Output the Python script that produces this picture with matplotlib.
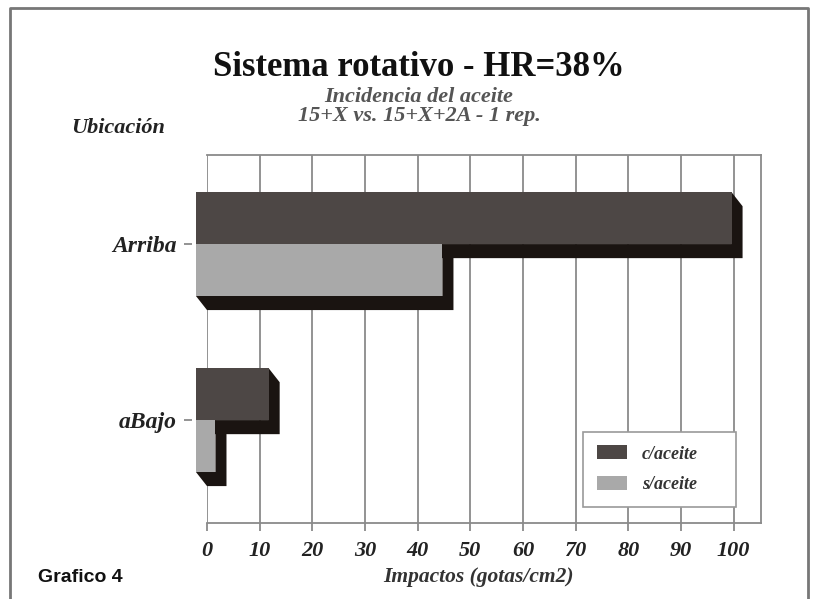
import numpy as np
import matplotlib
matplotlib.use("Agg")
import matplotlib.pyplot as plt
from matplotlib.patches import Polygon, Rectangle

# data
ubicacion = ["aBajo", "Arriba"]
series = ["c/aceite", "s/aceite"]
c_aceite = [13.8, 101.7]
s_aceite = [3.7, 46.8]
xticks = list(range(0, 101, 10))

front_col = {"c/aceite": "#4d4745", "s/aceite": "#a9a9a9"}
side_col = "#1a1411"

bar_h = 0.295
depth_x = 2.1   # extrusion in value units
depth_y = 0.08  # extrusion in category units

fig = plt.figure(figsize=(8.13, 5.99), dpi=100)
fig.patch.set_facecolor("white")
ax = fig.add_axes([207/813, 1-522.7/599, (761-207)/813, (522.7-155)/599])

ypos = np.arange(len(ubicacion))
fronts = []
for i, y in enumerate(ypos):
    for name, vals, top in (("c/aceite", c_aceite, y + bar_h), ("s/aceite", s_aceite, y)):
        v = vals[i]
        x0, x1 = -depth_x, v - depth_x
        yt, yb = top, top - bar_h
        shadow = Polygon([(x0, yb), (x0 + depth_x, yb - depth_y), (x1 + depth_x, yb - depth_y),
                          (x1 + depth_x, yt - depth_y), (x1, yt), (x1, yb)],
                         closed=True, facecolor=side_col, edgecolor="none", clip_on=False, zorder=3)
        ax.add_patch(shadow)
        fronts.append(Rectangle((x0, yb), x1 - x0, bar_h, facecolor=front_col[name],
                                edgecolor="none", clip_on=False, zorder=4))
for r in fronts:
    ax.add_patch(r)

ax.set_xlim(0, 105.2)
ax.set_ylim(-0.583, 1.506)
ax.set_xticks(xticks)
ax.set_yticks(ypos)
ax.set_yticklabels(ubicacion)
ax.xaxis.grid(True, color="#8a8a8a", linewidth=1.3)
ax.set_axisbelow(True)

for s in ("top", "right", "bottom"):
    ax.spines[s].set_color("#8a8a8a")
    ax.spines[s].set_linewidth(1.3)
ax.spines["left"].set_position(("outward", 11))
ax.spines["left"].set_visible(False)

ax.tick_params(axis="x", length=6, width=1.3, color="#8a8a8a", pad=7)
ax.tick_params(axis="y", length=6, width=1.3, color="#8a8a8a", pad=5)
for lab in ax.get_xticklabels():
    lab.set_fontfamily("Liberation Serif")
    lab.set_fontweight("bold")
    lab.set_fontstyle("italic")
    lab.set_fontsize(16)
    lab.set_color("#222222")
for lab in ax.get_yticklabels():
    lab.set_fontfamily("Liberation Serif")
    lab.set_fontweight("bold")
    lab.set_fontstyle("italic")
    lab.set_fontsize(17)
    lab.set_color("#222222")

handles = [Rectangle((0, 0), 1, 1, facecolor=front_col[n], edgecolor="none") for n in series]
leg = ax.legend(handles, series, loc="lower left", bbox_to_anchor=(0.679, 0.043, 0.276, 0.21),
                mode="expand", borderaxespad=0, frameon=True, fancybox=False, framealpha=1,
                prop=dict(family="Liberation Serif", weight="bold", style="italic", size=13),
                handlelength=1.7, handleheight=0.8, labelspacing=0.75, borderpad=0.75,
                handletextpad=0.8)
leg.get_frame().set_edgecolor("#9a9a9a")
leg.get_frame().set_linewidth(1.2)
for t in leg.get_texts():
    t.set_color("#333333")
leg.set_zorder(6)

fig.text(419/813, 1-68/599, "Sistema rotativo - HR=38%", ha="center", va="center",
         family="Liberation Serif", weight="bold", size=25, color="#111111")
fig.text(419/813, 1-97/599, "Incidencia del aceite", ha="center", va="center",
         family="Liberation Serif", weight="bold", style="italic", size=16, color="#555555")
fig.text(419/813, 1-116/599, "15+X vs. 15+X+2A - 1 rep.", ha="center", va="center",
         family="Liberation Serif", weight="bold", style="italic", size=16, color="#555555")
fig.text(118/813, 1-128/599, "Ubicación", ha="center", va="center",
         family="Liberation Serif", weight="bold", style="italic", size=16, color="#222222")
fig.text(478/813, 1-577/599, "Impactos (gotas/cm2)", ha="center", va="center",
         family="Liberation Serif", weight="bold", style="italic", size=15.5, color="#333333")
fig.text(38/813, 1-577/599, "Grafico 4", ha="left", va="center",
         family="Liberation Sans", weight="bold", size=14, color="#111111")

# outer frame (left, top, right)
fig.add_artist(plt.Line2D([10/813, 10/813, 808/813, 808/813], [0, 1-8/599, 1-8/599, 0],
                          transform=fig.transFigure, color="#777777", linewidth=2))

fig.savefig("out.png", dpi=100)
